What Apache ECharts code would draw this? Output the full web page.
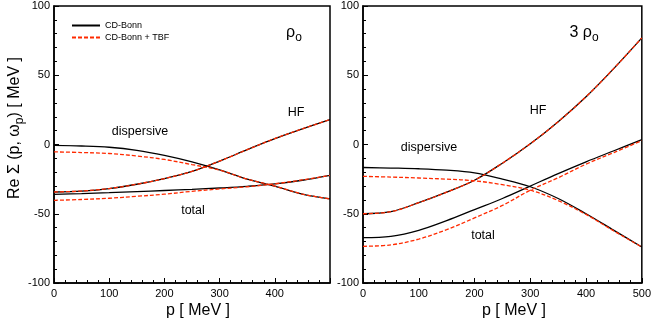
<!DOCTYPE html>
<html>
<head>
<meta charset="utf-8">
<script src="https://cdn.jsdelivr.net/npm/echarts@6/dist/echarts.min.js"></script>
<style>
  html, body { margin: 0; padding: 0; background: #fff; }
  #main { width: 654px; height: 327px; }
</style>
</head>
<body>
<div id="main"></div>
<script>
var chartDom = document.getElementById('main');
var myChart = echarts.init(chartDom);

// momentum grid (MeV), shared by both panels
var pX = [0, 50, 100, 150, 200, 250, 300, 350, 400, 450, 500];
var xTicks = [0, 100, 200, 300, 400, 500];
var yTicks = [-100, -50, 0, 50, 100];

// left panel: rho_0
var leftDispBonn = [-0.7, -1.1, -2, -4.2, -7.8, -12.5, -18.3, -25, -30, -35.8, -39.3];
var leftDispTbf  = [-5.3, -5.8, -6.5, -8.3, -10.8, -14.5, -18.5, -25, -30, -35.8, -39.3];
var leftHF       = [-34.3, -33.6, -31.8, -28.7, -24.6, -19.4, -12, -3.7, 4.3, 11.3, 18];
var leftTotBonn  = [-36, -35.5, -34.8, -34, -33.2, -32.4, -31.4, -30.2, -28.5, -25.8, -22.3];
var leftTotTbf   = [-40.3, -39.7, -38.8, -37.4, -35.9, -33.8, -32.1, -30.5, -28.4, -25.6, -22.3];

// right panel: 3 rho_0
var rightHF       = [-50, -48.5, -42, -34.4, -25.8, -13.5, 0.5, 16.5, 34.5, 55, 77];
var rightDispBonn = [-16.6, -17, -17.5, -18.5, -20.5, -25, -30.5, -39, -50, -62, -74];
var rightDispTbf  = [-23, -23.5, -24.2, -25, -26.2, -29, -33, -40.5, -50.5, -62.5, -74];
var rightTotBonn  = [-67.3, -66.3, -62, -55, -47, -39, -30, -21, -12.5, -4.5, 3.5];
var rightTotTbf   = [-73.5, -72.5, -68.3, -61.5, -53, -44, -33, -24, -14.2, -5.8, 2.8];

var BLACK = '#000000';
var RED = '#ff2a00';
var FONT = 'Liberation Sans';

function pairs(ys) {
  return pX.map(function (x, i) { return [x, ys[i]]; });
}

function curve(name, ys, idx, isTbf) {
  return {
    name: name,
    type: 'line',
    xAxisIndex: idx,
    yAxisIndex: idx,
    data: pairs(ys),
    smooth: 0.35,
    symbol: 'none',
    silent: true,
    z: isTbf ? 3 : 2,
    lineStyle: {
      color: isTbf ? RED : BLACK,
      width: 1.3,
      type: isTbf ? [4, 2] : 'solid'
    },
    itemStyle: { color: isTbf ? RED : BLACK }
  };
}

function xAx(idx, hideMax) {
  return {
    type: 'value',
    gridIndex: idx,
    min: 0,
    max: 500,
    interval: 100,
    axisLine: { onZero: false, lineStyle: { color: BLACK, width: 1.5 } },
    axisTick: { inside: true, length: 5, lineStyle: { color: BLACK } },
    minorTick: { show: true, splitNumber: 5, length: 3, lineStyle: { color: BLACK } },
    splitLine: { show: false },
    axisLabel: {
      color: BLACK, fontFamily: FONT, fontSize: 11, margin: 5,
      showMaxLabel: !hideMax,
      formatter: function (v) { return xTicks.indexOf(v) >= 0 ? String(v) : ''; }
    }
  };
}

function yAx(idx) {
  return {
    type: 'value',
    gridIndex: idx,
    min: -100,
    max: 100,
    interval: 50,
    axisLine: { onZero: false, lineStyle: { color: BLACK, width: 1.5 } },
    axisTick: { inside: true, length: 5, lineStyle: { color: BLACK } },
    minorTick: { show: true, splitNumber: 5, length: 3, lineStyle: { color: BLACK } },
    splitLine: { show: false },
    axisLabel: {
      color: BLACK, fontFamily: FONT, fontSize: 11, margin: 4,
      formatter: function (v) { return yTicks.indexOf(v) >= 0 ? String(v) : ''; }
    }
  };
}

function txt(x, y, text, size, rich) {
  return {
    type: 'text',
    x: x,
    y: y,
    silent: true,
    style: {
      text: text,
      fill: BLACK,
      fontFamily: FONT,
      fontSize: size,
      align: 'center',
      verticalAlign: 'middle',
      rich: rich
    }
  };
}

var subRich = {
  a: { fontFamily: FONT, fontSize: 16, fill: BLACK, color: BLACK },
  s: { fontFamily: FONT, fontSize: 12, fill: BLACK, color: BLACK, padding: [9, 0, 0, 0] }
};

var yTitle = txt(15, 128, '{a|Re Σ (p, ω}{s|p}{a|) [ MeV ]}', 16, subRich);
yTitle.rotation = Math.PI / 2;

var option = {
  animation: false,
  backgroundColor: '#ffffff',
  grid: [
    { left: 54, top: 6, width: 276, height: 277, show: true, borderColor: BLACK, borderWidth: 1.5, backgroundColor: 'transparent' },
    { left: 363, top: 6, width: 280, height: 277, show: true, borderColor: BLACK, borderWidth: 1.5, backgroundColor: 'transparent' }
  ],
  legend: {
    data: ['CD-Bonn', 'CD-Bonn + TBF'],
    orient: 'vertical',
    left: 66,
    top: 16,
    itemWidth: 28,
    itemHeight: 8,
    itemGap: 3,
    selectedMode: false,
    itemStyle: { opacity: 0 },
    textStyle: { color: BLACK, fontFamily: FONT, fontSize: 9 }
  },
  xAxis: [xAx(0, true), xAx(1, false)],
  yAxis: [yAx(0), yAx(1)],
  series: [
    curve('CD-Bonn', leftDispBonn, 0, false),
    curve('CD-Bonn', leftHF, 0, false),
    curve('CD-Bonn', leftTotBonn, 0, false),
    curve('CD-Bonn', rightDispBonn, 1, false),
    curve('CD-Bonn', rightHF, 1, false),
    curve('CD-Bonn', rightTotBonn, 1, false),
    curve('CD-Bonn + TBF', leftDispTbf, 0, true),
    curve('CD-Bonn + TBF', leftHF, 0, true),
    curve('CD-Bonn + TBF', leftTotTbf, 0, true),
    curve('CD-Bonn + TBF', rightDispTbf, 1, true),
    curve('CD-Bonn + TBF', rightHF, 1, true),
    curve('CD-Bonn + TBF', rightTotTbf, 1, true)
  ],
  graphic: [
    yTitle,
    txt(198, 311, 'p [ MeV ]', 16),
    txt(514, 311, 'p [ MeV ]', 16),
    txt(140, 132, 'dispersive', 12.5),
    txt(296, 113, 'HF', 12.5),
    txt(193, 211, 'total', 12.5),
    txt(429, 148, 'dispersive', 12.5),
    txt(538, 111, 'HF', 12.5),
    txt(483, 236, 'total', 12.5),
    txt(294, 33, '{a|ρ}{s|o}', 16, subRich),
    txt(584, 33, '{a|3 ρ}{s|o}', 16, subRich)
  ]
};

myChart.setOption(option);
</script>
</body>
</html>
